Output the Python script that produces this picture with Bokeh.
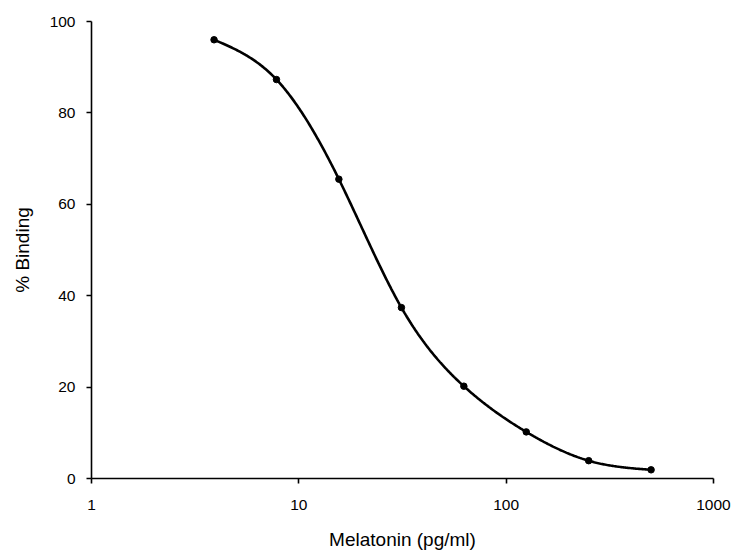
import numpy as np
from bokeh.plotting import figure
from bokeh.models import FixedTicker, PrintfTickFormatter, ColumnDataSource
from bokeh.embed import file_html
from bokeh.resources import INLINE

# Standard curve: melatonin concentration vs percent binding
melatonin_pg_ml = [3.9, 7.8, 15.6, 31.25, 62.5, 125, 250, 500]
percent_binding = [96.0, 87.3, 65.5, 37.4, 20.2, 10.2, 3.9, 1.9]

x_ticks = [1, 10, 100, 1000]
y_ticks = [0, 20, 40, 60, 80, 100]


def natural_spline(xs, ys, n=400):
    """Natural cubic spline through (xs, ys); returns dense sample arrays."""
    xs = np.asarray(xs, float)
    ys = np.asarray(ys, float)
    k = len(xs)
    h = np.diff(xs)
    A = np.zeros((k, k))
    b = np.zeros(k)
    A[0, 0] = A[-1, -1] = 1.0
    for i in range(1, k - 1):
        A[i, i - 1] = h[i - 1]
        A[i, i] = 2 * (h[i - 1] + h[i])
        A[i, i + 1] = h[i]
        b[i] = 3 * ((ys[i + 1] - ys[i]) / h[i] - (ys[i] - ys[i - 1]) / h[i - 1])
    c = np.linalg.solve(A, b)
    xd = np.linspace(xs[0], xs[-1], n)
    yd = np.empty_like(xd)
    for j, xv in enumerate(xd):
        i = min(np.searchsorted(xs, xv, side="right") - 1, k - 2)
        d = xv - xs[i]
        bi = (ys[i + 1] - ys[i]) / h[i] - h[i] * (2 * c[i] + c[i + 1]) / 3
        di = (c[i + 1] - c[i]) / (3 * h[i])
        yd[j] = ys[i] + bi * d + c[i] * d ** 2 + di * d ** 3
    return xd, yd


# smooth the curve in log-concentration space
lx, ly = natural_spline(np.log10(melatonin_pg_ml), percent_binding)
curve = ColumnDataSource(dict(x=10 ** lx, y=ly))
pts = ColumnDataSource(dict(x=melatonin_pg_ml, y=percent_binding))

p = figure(
    width=733, height=554,
    x_axis_type="log",
    x_range=(1, 1000), y_range=(0, 100),
    output_backend="svg", toolbar_location=None,
    min_border_left=91, min_border_right=20,
    min_border_top=21, min_border_bottom=76,
    background_fill_color="white", border_fill_color="white",
)
p.outline_line_color = None
p.grid.visible = False

p.line("x", "y", source=curve, line_color="black", line_width=2.6)
p.scatter("x", "y", source=pts, size=6.5, fill_color="black", line_color="black")

font = "Liberation Sans"
for ax in (p.xaxis[0], p.yaxis[0]):
    ax.axis_line_color = "black"
    ax.axis_line_width = 1.6
    ax.major_tick_line_color = "black"
    ax.major_tick_line_width = 1.6
    ax.major_tick_in = 0
    ax.major_tick_out = 5
    ax.minor_tick_line_color = None
    ax.major_label_text_font = font
    ax.major_label_text_font_size = "15.5px"
    ax.major_label_text_color = "black"
    ax.axis_label_text_font = font
    ax.axis_label_text_font_size = "19px"
    ax.axis_label_text_font_style = "normal"
    ax.axis_label_text_color = "black"

p.xaxis.ticker = FixedTicker(ticks=x_ticks)
p.xaxis.formatter = PrintfTickFormatter(format="%d")
p.xaxis.major_label_standoff = 16
p.xaxis.axis_label = "Melatonin (pg/ml)"
p.xaxis.axis_label_standoff = 16

p.yaxis.ticker = FixedTicker(ticks=y_ticks)
p.yaxis.major_label_standoff = 11
p.yaxis.axis_label = "% Binding"
p.yaxis.axis_label_standoff = 14

open("out.html", "w").write(file_html(p, INLINE))
